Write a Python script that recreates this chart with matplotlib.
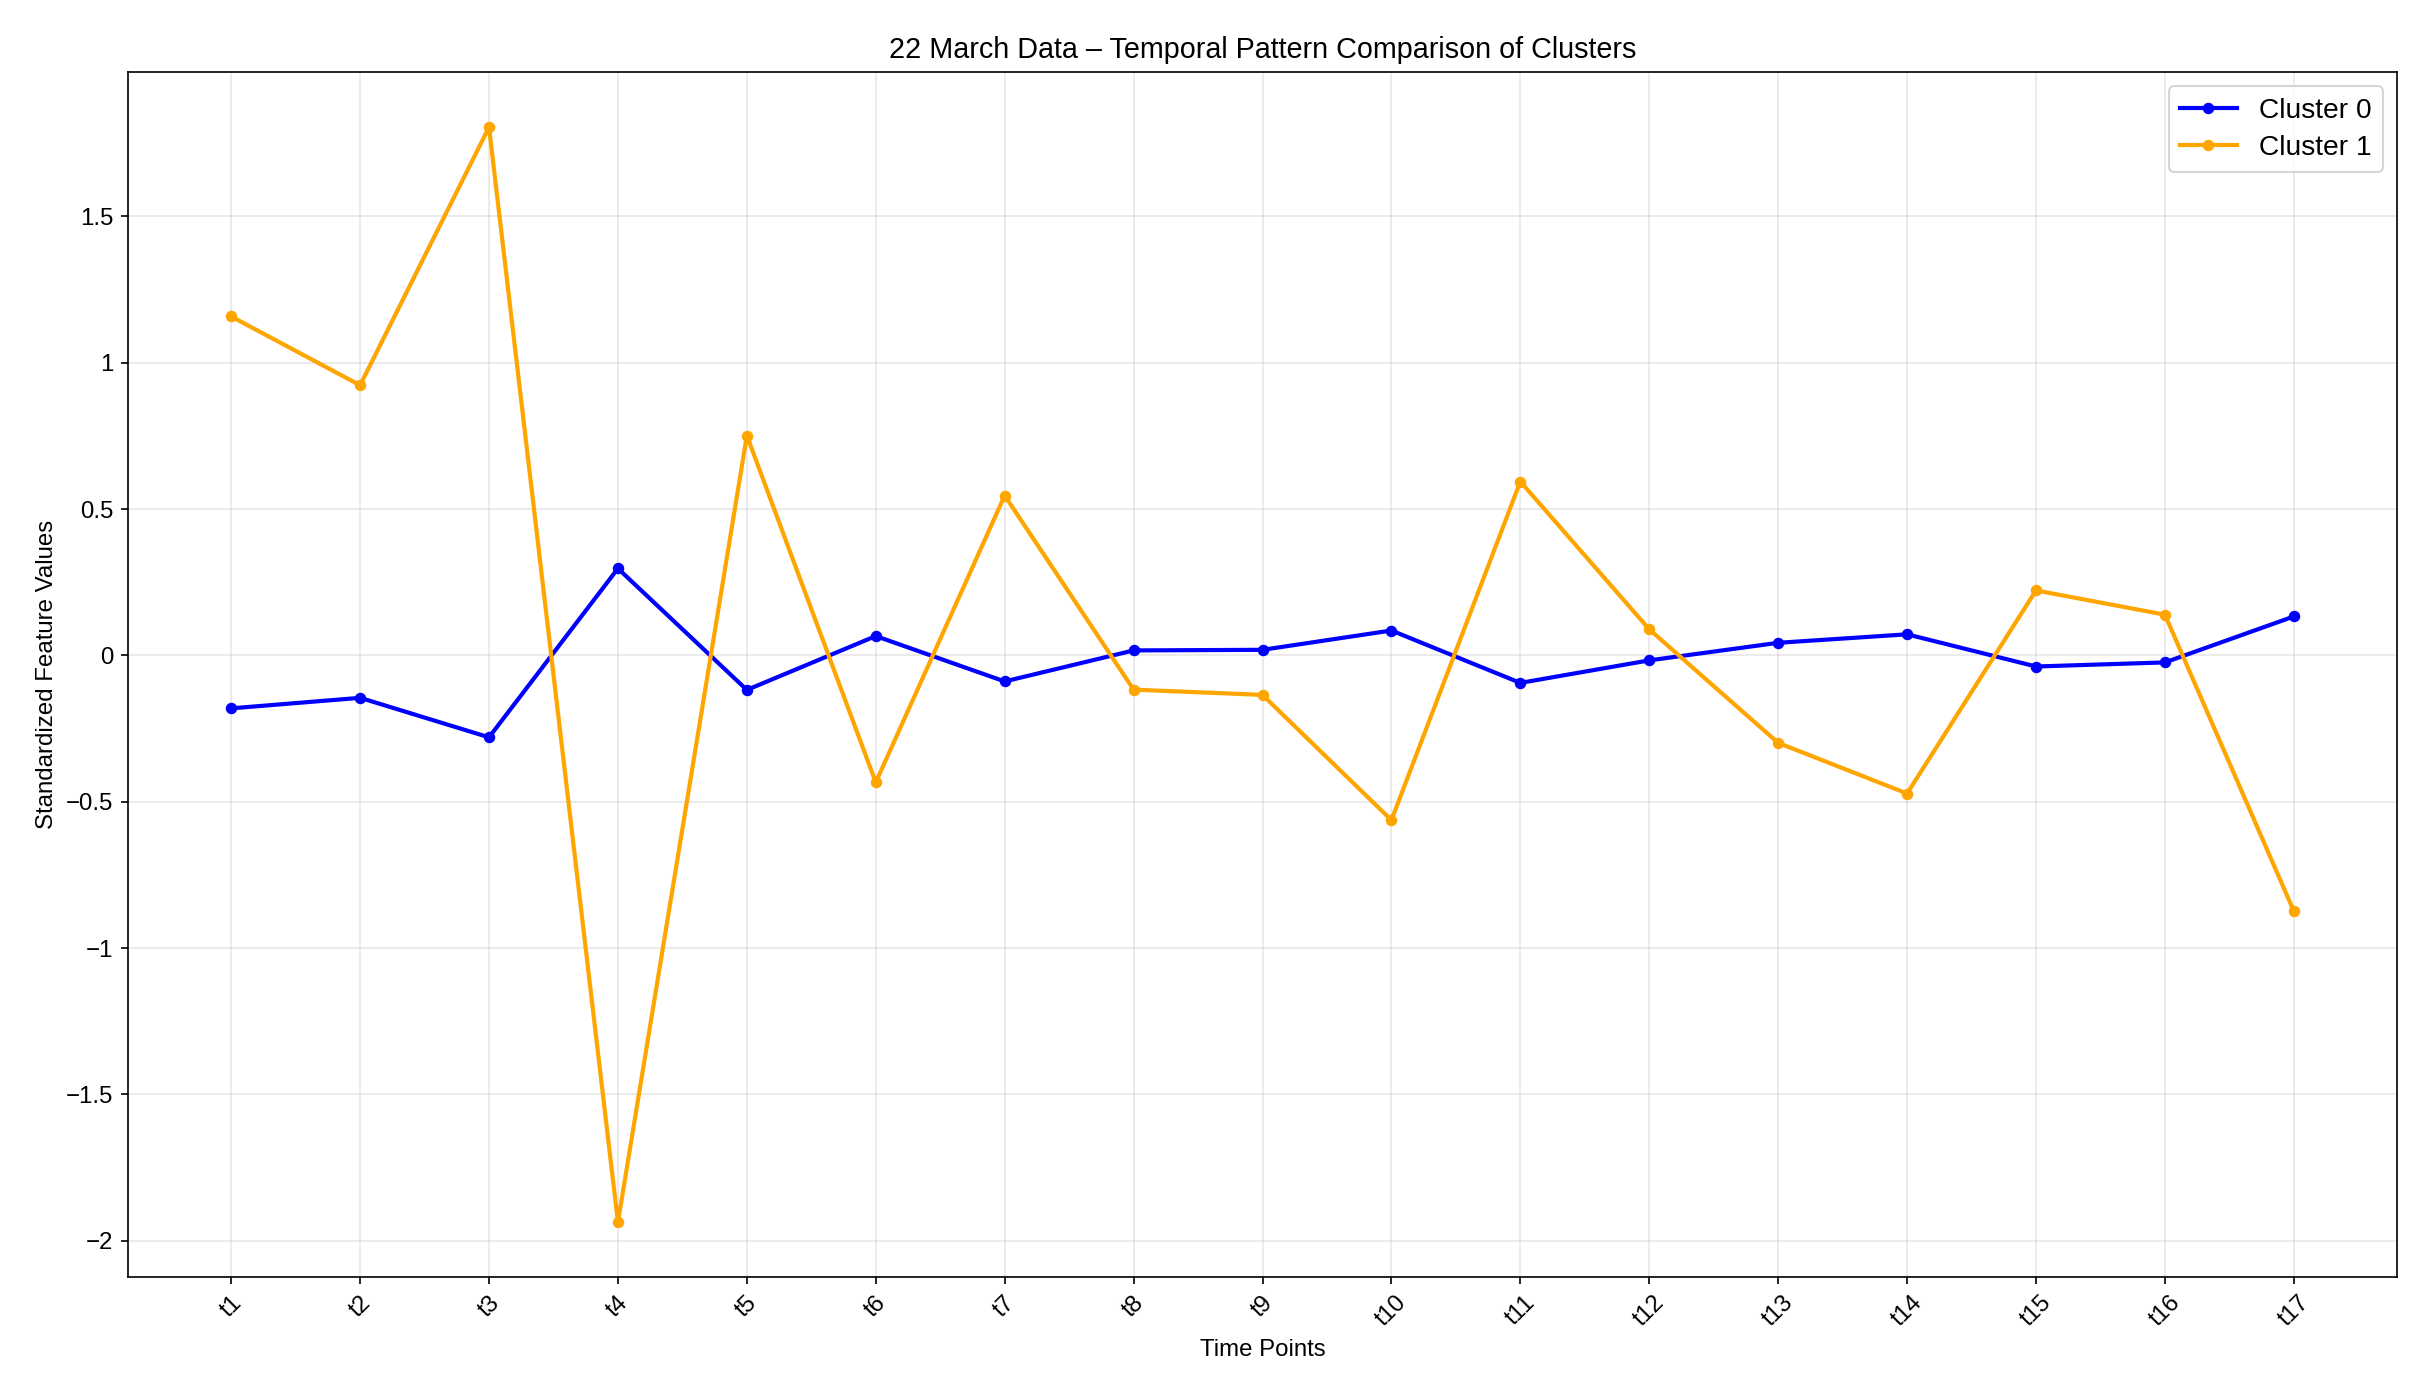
import numpy as np
import matplotlib
matplotlib.use("Agg")
import matplotlib.pyplot as plt

plt.rcParams['font.family'] = ['Liberation Sans', 'DejaVu Sans']

time_points = ["t1", "t2", "t3", "t4", "t5", "t6", "t7", "t8", "t9",
               "t10", "t11", "t12", "t13", "t14", "t15", "t16", "t17"]
cluster0 = [-0.181, -0.145, -0.280, 0.297, -0.118, 0.066, -0.089, 0.017, 0.019,
            0.085, -0.094, -0.017, 0.043, 0.072, -0.038, -0.024, 0.133]
cluster1 = [1.158, 0.923, 1.805, -1.937, 0.751, -0.434, 0.546, -0.117, -0.135,
            -0.563, 0.594, 0.089, -0.299, -0.472, 0.222, 0.139, -0.874]

fig, ax = plt.subplots(figsize=(16.2, 9.28), dpi=150)
fig.subplots_adjust(left=0.0527, right=0.9864, top=0.948, bottom=0.0826)

x = np.arange(len(time_points))
ax.plot(x, cluster0, "-o", color="blue", lw=2, ms=4.5, label="Cluster 0")
ax.plot(x, cluster1, "-o", color="orange", lw=2, ms=4.5, label="Cluster 1")

ax.set_xticks(x)
ax.set_xticklabels(time_points, rotation=45)
ax.set_yticks([-2, -1.5, -1, -0.5, 0, 0.5, 1, 1.5])
ax.set_yticklabels(["\u22122", "\u22121.5", "\u22121", "\u22120.5", "0", "0.5", "1", "1.5"])
ax.tick_params(labelsize=11.5)
ax.grid(True, alpha=0.3)
ax.set_xlabel("Time Points", fontsize=11.5)
ax.set_ylabel("Standardized Feature Values", fontsize=11.5)
ax.set_title("22 March Data \u2013 Temporal Pattern Comparison of Clusters", fontsize=13.8, pad=7)
ax.legend(loc="upper right", fontsize=13.5, labelspacing=0.4)

fig.savefig("out.png", dpi=150)
